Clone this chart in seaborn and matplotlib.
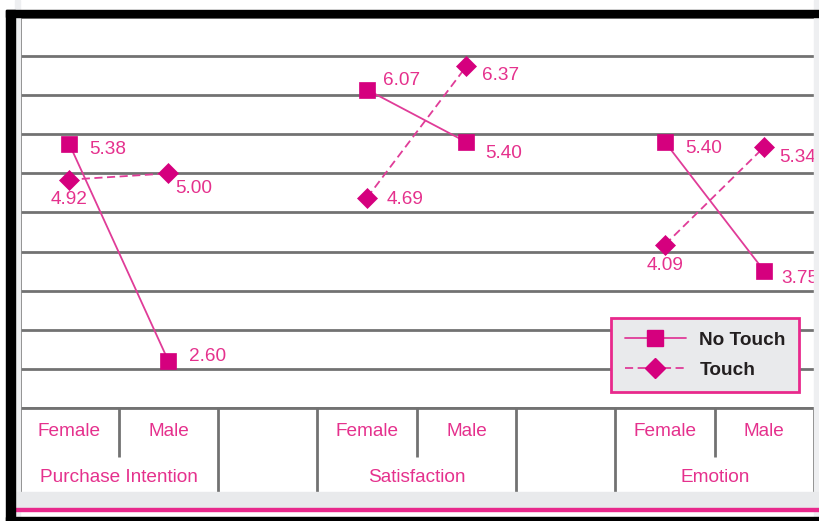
import numpy as np
import pandas as pd
import matplotlib
matplotlib.use("Agg")
import matplotlib.pyplot as plt
from matplotlib.patches import Rectangle
from matplotlib.lines import Line2D
import seaborn as sns

# ---- data ----
measures = ["Purchase Intention", "Satisfaction", "Emotion"]
genders = ["Female", "Male"]
conditions = ["No Touch", "Touch"]
no_touch = [5.38, 2.60, 6.07, 5.40, 5.40, 3.75]
touch = [4.92, 5.00, 4.69, 6.37, 4.09, 5.34]

# ---- styling ----
W, H, DPI = 819, 521, 100
PINK_TEXT = "#E5318D"
PINK_LINE = "#E03C98"
PINK_MARK = "#D5007E"
GRID = "#727272"
BAND = "#E9EAEC"
FONT = "Liberation Sans"
FS = 13.7

sns.set_theme(style="white")
plt.rcParams["font.family"] = [FONT, "DejaVu Sans"]

rows = []
for m_i, m in enumerate(measures):
    for g_i, g in enumerate(genders):
        slot = 3 * m_i + g_i
        rows.append(dict(measure=m, gender=g, slot=slot, condition="No Touch",
                         value=no_touch[2 * m_i + g_i]))
        rows.append(dict(measure=m, gender=g, slot=slot, condition="Touch",
                         value=touch[2 * m_i + g_i]))
df = pd.DataFrame(rows)

fig = plt.figure(figsize=(W / DPI, H / DPI), dpi=DPI)
fig.patch.set_facecolor("white")


def px_box(x0, y0, x1, y1):
    """Figure-fraction [left, bottom, width, height] from pixel corners."""
    return [x0 / W, 1 - y1 / H, (x1 - x0) / W, (y1 - y0) / H]


# light side/bottom bands and frame
fig.patches.append(Rectangle((15 / W, 0), 5 / W, 1, transform=fig.transFigure,
                             color="#EEEFF1", zorder=0))
fig.patches.append(Rectangle((814 / W, 0), 5 / W, 1, transform=fig.transFigure,
                             color="#EEEFF1", zorder=0))
fig.patches.append(Rectangle((15 / W, 1 - 508 / H), (W - 15) / W, 16 / H,
                             transform=fig.transFigure, color=BAND, zorder=0))
fig.patches.append(Rectangle((15 / W, 1 - 510.5 / H), (W - 15) / W, 2.2 / H,
                             transform=fig.transFigure, color="#E8298C", zorder=1))

ax = fig.add_axes(px_box(19.5, 17, 814, 408))
ax.set_facecolor("white")

sns.lineplot(data=df, x="slot", y="value", hue="condition", style="condition",
             units="measure", estimator=None, sort=False, ax=ax,
             palette={c: PINK_LINE for c in conditions},
             markers={"No Touch": "s", "Touch": "D"},
             dashes={"No Touch": "", "Touch": (4.5, 2.5)},
             linewidth=1.3, markersize=11.5, legend=False, zorder=5)
for ln in ax.lines:
    ln.set_markerfacecolor(PINK_MARK)
    ln.set_markeredgecolor(PINK_MARK)
    ln.set_markeredgewidth(0.5)
    if ln.get_marker() == "D":
        ln.set_markersize(10.5)

ax.set_xlim(-0.5, 7.5)
ax.set_ylim(2.0, 7.0)
ax.set_yticks(np.arange(2.0, 7.01, 0.5))
ax.set_xticks([])
ax.tick_params(left=False, labelleft=False)
ax.grid(axis="y", color=GRID, linewidth=2.0)
ax.set_xlabel("")
ax.set_ylabel("")
for side in ["top", "right"]:
    ax.spines[side].set_visible(False)
ax.spines["left"].set_color(GRID)
ax.spines["left"].set_linewidth(2.0)
ax.spines["bottom"].set_color(GRID)
ax.spines["bottom"].set_linewidth(2.0)

# value labels
offsets_nt = [(14.4, -4.3, "left"), (15.0, 3.0, "left"),
              (11.5, 6.5, "left"), (13.7, -8.0, "left"),
              (14.4, -4.3, "left"), (12.0, -5.0, "left")]
offsets_t = [(0.0, -14.4, "center"), (5.0, -11.0, "left"),
             (14.4, -1.5, "left"), (11.5, -6.5, "left"),
             (0.0, -15.0, "center"), (11.0, -8.0, "left")]
for cond, vals, offs in [("No Touch", no_touch, offsets_nt), ("Touch", touch, offsets_t)]:
    sub = df[df["condition"] == cond].reset_index(drop=True)
    for i, r in sub.iterrows():
        dx, dy, ha = offs[i]
        ax.annotate(f"{r['value']:.2f}", (r["slot"], r["value"]),
                    xytext=(dx, dy), textcoords="offset points",
                    ha=ha, va="center", color=PINK_TEXT, fontsize=FS,
                    annotation_clip=False, zorder=6)

# legend
handles = [Line2D([], [], color=PINK_LINE, lw=1.3, marker="s", markersize=11.5,
                  markerfacecolor=PINK_MARK, markeredgecolor=PINK_MARK),
           Line2D([], [], color=PINK_LINE, lw=1.3, ls=(0, (4.5, 2.5)), marker="D",
                  markersize=10.5, markerfacecolor=PINK_MARK, markeredgecolor=PINK_MARK)]
leg = ax.legend(handles, conditions, loc="upper left",
                bbox_to_anchor=(611 / W, 1 - 318 / H), bbox_transform=fig.transFigure,
                borderaxespad=0, frameon=True, fancybox=False, framealpha=1,
                facecolor=BAND, edgecolor="#E8298C", handlelength=3.2,
                handletextpad=0.72, borderpad=0.72, labelspacing=0.64,
                prop=dict(family=FONT, weight="bold", size=FS))
leg.get_frame().set_linewidth(2.0)
for t in leg.get_texts():
    t.set_color("#231F20")
leg.set_zorder(10)

# category table under the plot
tab = fig.add_axes(px_box(19.5, 408, 814, 492))
tab.set_xlim(-0.5, 7.5)
tab.set_ylim(0, 84)
tab.axis("off")
tab.patch.set_alpha(0)
long_seps = [-0.5, 1.5, 2.5, 4.5, 5.5, 7.5]
short_seps = [0.5, 3.5, 6.5]
tab.vlines(long_seps, 0, 84, color=GRID, lw=2.0)
tab.vlines(short_seps, 35, 84, color=GRID, lw=2.0)
for m_i, m in enumerate(measures):
    for g_i, g in enumerate(genders):
        tab.text(3 * m_i + g_i, 60, g, ha="center", va="center",
                 color=PINK_TEXT, fontsize=FS)
    tab.text(3 * m_i + 0.5, 14, m, ha="center", va="center",
             color=PINK_TEXT, fontsize=FS)

# black frame (left, top, bottom)
for (x0, y0, x1, y1) in [(6, 10, 15, H), (6, 10, W, 17), (6, 517, W, H)]:
    fig.patches.append(Rectangle((x0 / W, 1 - y1 / H), (x1 - x0) / W, (y1 - y0) / H,
                                 transform=fig.transFigure, color="black", zorder=20))

fig.savefig("out.png", dpi=DPI)
